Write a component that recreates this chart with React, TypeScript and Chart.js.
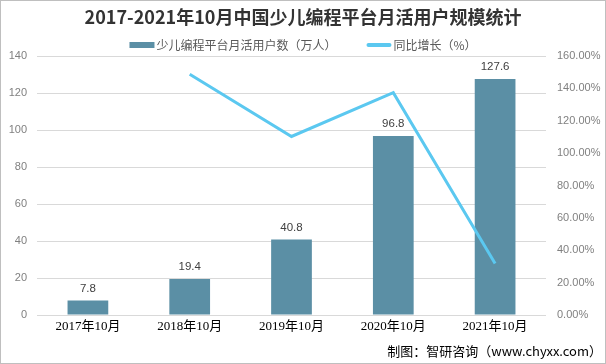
import React, { useEffect, useRef } from "react";
import { Chart, registerables } from "chart.js";

Chart.register(...registerables);

const categories = ["2017年10月", "2018年10月", "2019年10月", "2020年10月", "2021年10月"];
const users = [7.8, 19.4, 40.8, 96.8, 127.6];
const growth = [null, 148.7, 110.3, 137.3, 31.8];
const leftTicks = { min: 0, max: 140, step: 20 };
const rightTicks = { min: 0, max: 160, step: 20 };
const titleText = "2017-2021年10月中国少儿编程平台月活用户规模统计";
const seriesNames = ["少儿编程平台月活用户数（万人）", "同比增长（%）"];
const sourceText = "制图：智研咨询（www.chyxx.com）";

const BAR_COLOR = "#5b8fa5";
const LINE_COLOR = "#5bc8f0";
const CJK = '"Noto Sans CJK SC", "Microsoft YaHei", sans-serif';
const NUM = '"Liberation Sans", Arial, sans-serif';

const decoPlugin = {
  id: "deco",
  afterDatasetsDraw(chart: any) {
    const ctx = chart.ctx;
    const meta = chart.getDatasetMeta(0);
    ctx.save();
    ctx.font = `11.5px ${NUM}`;
    ctx.fillStyle = "#404040";
    ctx.textAlign = "center";
    ctx.textBaseline = "alphabetic";
    meta.data.forEach((bar: any, i: number) => {
      ctx.fillText(String(users[i]), bar.x, bar.y - 9);
    });
    ctx.restore();
  },
  afterDraw(chart: any) {
    const ctx = chart.ctx;
    const W = chart.width;
    const H = chart.height;
    ctx.save();
    // title
    ctx.font = `bold 18px ${CJK}`;
    ctx.fillStyle = "#333333";
    ctx.textAlign = "center";
    ctx.textBaseline = "middle";
    ctx.fillText(titleText, W / 2, 17);

    // legend
    ctx.font = `12px ${CJK}`;
    const w1 = ctx.measureText(seriesNames[0]).width;
    const w2 = ctx.measureText(seriesNames[1]).width;
    const box = 25;
    const gapText = 2;
    const gapItem = 30;
    const total = box + gapText + w1 + gapItem + box + gapText + w2;
    let x = W / 2 - total / 2;
    const ly = 45;
    ctx.fillStyle = BAR_COLOR;
    ctx.fillRect(x, ly - 3, box, 6);
    ctx.fillStyle = "#595959";
    ctx.textAlign = "left";
    ctx.fillText(seriesNames[0], x + box + gapText, ly);
    x += box + gapText + w1 + gapItem;
    ctx.strokeStyle = LINE_COLOR;
    ctx.lineWidth = 4;
    ctx.lineCap = "round";
    ctx.beginPath();
    ctx.moveTo(x + 2, ly);
    ctx.lineTo(x + box - 2, ly);
    ctx.stroke();
    ctx.fillStyle = "#595959";
    ctx.fillText(seriesNames[1], x + box + gapText, ly);

    // source
    ctx.font = `13px ${CJK}`;
    ctx.fillStyle = "#000000";
    ctx.textAlign = "right";
    ctx.fillText(sourceText, W - 4, 351);

    // border
    ctx.strokeStyle = "#bfbfbf";
    ctx.lineWidth = 1;
    ctx.strokeRect(0.5, 0.5, W - 1, H - 1);
    ctx.restore();
  },
};

export default function App() {
  const ref = useRef<HTMLCanvasElement | null>(null);

  useEffect(() => {
    document.body.style.margin = "0";
    const canvas = ref.current;
    if (!canvas) return;
    const chart = new Chart(canvas, {
      type: "bar",
      data: {
        labels: categories,
        datasets: [
          {
            type: "bar",
            label: seriesNames[0],
            data: users,
            backgroundColor: BAR_COLOR,
            borderWidth: 0,
            yAxisID: "y",
            order: 1,
            categoryPercentage: 1,
            barPercentage: 0.4,
          },
          {
            type: "line",
            label: seriesNames[1],
            data: growth as any,
            borderColor: LINE_COLOR,
            backgroundColor: LINE_COLOR,
            borderWidth: 3,
            pointRadius: 0,
            tension: 0,
            yAxisID: "y1",
            order: 0,
          } as any,
        ],
      },
      options: {
        animation: false,
        responsive: false,
        devicePixelRatio: 1,
        layout: { padding: { top: 56, left: 0, right: 0, bottom: 0 } },
        plugins: {
          legend: { display: false },
          title: { display: false },
          tooltip: { enabled: false },
        },
        scales: {
          x: {
            grid: { display: false, drawTicks: false },
            border: { display: false },
            ticks: {
              color: "#000000",
              font: { family: '"Liberation Serif", "Noto Sans CJK SC", serif', size: 13 },
              padding: 4,
              maxRotation: 0,
              autoSkip: false,
            },
            afterFit: (s: any) => {
              s.height = 49;
            },
          },
          y: {
            position: "left",
            min: leftTicks.min,
            max: leftTicks.max,
            ticks: {
              stepSize: leftTicks.step,
              color: "#808080",
              font: { family: NUM, size: 11 },
              padding: 10,
            },
            grid: { color: "#d9d9d9", drawTicks: false, lineWidth: 1 },
            border: { display: false },
            afterFit: (s: any) => {
              s.width = 37;
            },
          },
          y1: {
            position: "right",
            min: rightTicks.min,
            max: rightTicks.max,
            ticks: {
              stepSize: rightTicks.step,
              color: "#808080",
              font: { family: NUM, size: 11 },
              padding: 11,
              callback: (v: any) => Number(v).toFixed(2) + "%",
            },
            grid: { display: false, drawTicks: false },
            border: { display: false },
            afterFit: (s: any) => {
              s.width = 60;
            },
          },
        },
      },
      plugins: [decoPlugin],
    });
    return () => chart.destroy();
  }, []);

  return (
    <div style={{ width: 606, height: 364, background: "#ffffff" }}>
      <canvas ref={ref} width={606} height={364} style={{ width: 606, height: 364, display: "block" }} />
    </div>
  );
}
